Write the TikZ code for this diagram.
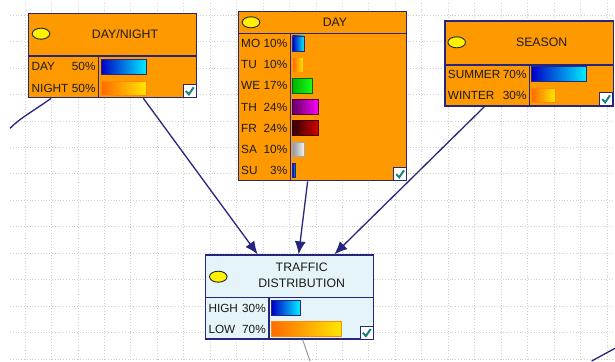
\documentclass[tikz,border=0pt]{standalone}
\usepackage{fontspec}
\setmainfont{Liberation Sans}
\usetikzlibrary{arrows.meta}
\definecolor{org}{HTML}{FF9900}
\definecolor{navy}{HTML}{26267F}
\definecolor{lightc}{HTML}{E4F4F8}
\definecolor{txt}{HTML}{1A1A1A}
\definecolor{tealck}{HTML}{1F7F7F}
\definecolor{gridc}{HTML}{D0D0D0}
\definecolor{oranL}{HTML}{FF6A00}
\definecolor{oranR}{HTML}{FFE800}
\definecolor{oranB}{HTML}{FF8A00}
\definecolor{blueL}{HTML}{0000C8}
\definecolor{blueR}{HTML}{00F0FF}
\tikzset{
  gridline/.style={draw=gridc, line width=0.8pt, dotted},
  nodebox/.style={draw=navy, line width=1.3pt, fill=org, inner sep=0pt},
  tnodebox/.style={nodebox, fill=lightc},
  divline/.style={draw=navy, line width=1.2pt},
  lbl/.style={inner sep=0pt, text height=8.4pt, text depth=0pt, text=txt, font=\fontsize{11.8}{13}\selectfont},
  ttl/.style={inner sep=0pt, text height=8.8pt, text depth=0pt, text=txt, font=\fontsize{12.3}{14}\selectfont},
  oval/.style={fill=yellow, draw=black!85, line width=0.9pt},
  barblue/.style={left color=blueL, right color=blueR, draw=navy, line width=0.8pt},
  barorange/.style={left color=oranL, right color=oranR, draw=oranB, line width=0.8pt},
  bargreen/.style={left color=green!70!black, right color=green!90!white, draw=green!40!black, line width=0.8pt},
  barpurple/.style={left color=violet!80!black, right color=magenta, draw=violet!60!black, line width=0.8pt},
  barred/.style={left color=red!20!black, right color=red!85!black, draw=red!25!black, line width=0.8pt},
  bargray/.style={left color=gray!80, right color=gray!10, draw=gray!70, line width=0.8pt},
  arr/.style={draw=navy, line width=1.3pt, -{Latex[length=13pt,width=11pt]}},
  link/.style={draw=navy, line width=1.3pt},
  glink/.style={draw=gray!80, line width=1pt},
  chkbox/.pic={
    \draw[fill=white, draw=navy, line width=1.1pt] (-6.5,-6.5) rectangle (6.5,6.5);
    \draw[draw=tealck, line width=2pt] (-3.8,0.2) -- (-0.8,3.4) -- (4,-3.6);
  }
}
\begin{document}
\begin{tikzpicture}[x=1pt,y=-1pt]
\useasboundingbox (0,0) rectangle (615,361);
\fill[white] (0,0) rectangle (615,361);
% background grid
\foreach \i in {0,...,22} \draw[gridline] ({25+\i*26.45},3) -- ({25+\i*26.45},361);
\foreach \j in {0,...,13} \draw[gridline] (10,{15.1+\j*26.45}) -- (615,{15.1+\j*26.45});

% ---------- DAY/NIGHT ----------
\node[nodebox, minimum width=168.4pt, minimum height=84.4pt] (dn) at (112.5,55.5) {};
\draw[divline] (28.3,56) -- (196.7,56);
\draw[divline] (98.3,56) -- (98.3,97.7);
\draw[oval] (41,33.7) ellipse [x radius=8.8pt, y radius=5.5pt];
\node[ttl] (dnt) at (125,33.7) {DAY/NIGHT};
\node[lbl, anchor=west] (dn1) at (31.5,66.7) {DAY};
\node[lbl, anchor=east] (dn1p) at (95.7,66.7) {50\%};
\node[lbl, anchor=west] (dn2) at (31.5,88.3) {NIGHT};
\node[lbl, anchor=east] (dn2p) at (95.7,88.3) {50\%};
\draw[barblue] (101,59.3) rectangle (146.7,74);
\draw[barorange] (101,81) rectangle (146.7,95.5);
\pic at (189.7,90.9) {chkbox};

% ---------- DAY ----------
\node[nodebox, minimum width=168.4pt, minimum height=169pt] (dy) at (322.5,96.2) {};
\draw[divline] (238.3,33.3) -- (406.7,33.3);
\draw[divline] (290.7,33.3) -- (290.7,180.7);
\draw[oval] (251,22.3) ellipse [x radius=8.8pt, y radius=5.5pt];
\node[ttl] (dyt) at (335,22.3) {DAY};
\node[lbl, anchor=west] (d1) at (241,43.3) {MO};  \node[lbl, anchor=east] (d1p) at (287.5,43.3) {10\%};
\node[lbl, anchor=west] (d2) at (241,64.5) {TU};  \node[lbl, anchor=east] (d2p) at (287.5,64.5) {10\%};
\node[lbl, anchor=west] (d3) at (241,85.7) {WE};  \node[lbl, anchor=east] (d3p) at (287.5,85.7) {17\%};
\node[lbl, anchor=west] (d4) at (241,106.9) {TH}; \node[lbl, anchor=east] (d4p) at (287.5,106.9) {24\%};
\node[lbl, anchor=west] (d5) at (241,128.1) {FR}; \node[lbl, anchor=east] (d5p) at (287.5,128.1) {24\%};
\node[lbl, anchor=west] (d6) at (241,149.3) {SA}; \node[lbl, anchor=east] (d6p) at (287.5,149.3) {10\%};
\node[lbl, anchor=west] (d7) at (241,170.5) {SU}; \node[lbl, anchor=east] (d7p) at (287.5,170.5) {3\%};
\draw[barblue] (292.7,36) rectangle (304,51);
\draw[barorange, draw=org] (292.7,57.3) rectangle (303.3,72);
\draw[bargreen] (292.7,78.5) rectangle (312,93.2);
\draw[barpurple] (292.7,99.6) rectangle (318.7,114.3);
\draw[barred] (292.7,120.8) rectangle (318.7,135.5);
\draw[bargray] (292.7,142) rectangle (304,156.7);
\draw[barblue] (292.7,163.3) rectangle (295.8,177.8);
\pic at (400,173.9) {chkbox};

% ---------- SEASON ----------
\node[nodebox, minimum width=168.3pt, minimum height=85pt] (se) at (529.2,63.5) {};
\draw[divline] (445,65) -- (613.3,65);
\draw[divline] (529.3,65) -- (529.3,106);
\draw[oval] (456.7,42.3) ellipse [x radius=8.8pt, y radius=5.5pt];
\node[ttl] (set) at (541.7,42.3) {SEASON};
\node[lbl, anchor=west] (s1) at (447.7,74) {SUMMER};
\node[lbl, anchor=east] (s1p) at (526.7,74) {70\%};
\node[lbl, anchor=west] (s2) at (447.7,95.7) {WINTER};
\node[lbl, anchor=east] (s2p) at (526.7,95.7) {30\%};
\draw[barblue] (531.7,66.7) rectangle (586.7,81.7);
\draw[barorange] (531.7,88.3) rectangle (555,102.7);
\pic at (606,98.9) {chkbox};

% ---------- TRAFFIC DISTRIBUTION ----------
\node[tnodebox, minimum width=167.6pt, minimum height=84pt] (tr) at (289.5,297) {};
\draw[divline] (205.7,297.3) -- (373.3,297.3);
\draw[divline] (269,297.3) -- (269,339);
\draw[oval] (218.3,276.7) ellipse [x radius=8.8pt, y radius=5.5pt];
\node[ttl] (trt1) at (301.7,266.7) {TRAFFIC};
\node[ttl] (trt2) at (301.7,282.7) {DISTRIBUTION};
\node[lbl, anchor=west] (t1) at (208.3,308.3) {HIGH};
\node[lbl, anchor=east] (t1p) at (266,308.3) {30\%};
\node[lbl, anchor=west] (t2) at (208.3,329.3) {LOW};
\node[lbl, anchor=east] (t2p) at (266,329.3) {70\%};
\draw[barblue] (271.7,300.7) rectangle (300,315);
\draw[barorange] (271.7,321.5) rectangle (341.7,336.5);
\pic at (366.7,332.6) {chkbox};

% ---------- connectors ----------
\coordinate (offL) at (10,128.3);
\coordinate (offB) at (310,361);
\coordinate (offR1) at (591.7,361);
\coordinate (offR2) at (615,348.3);
\draw[link] ([xshift=23.4pt]dn.south west) .. controls (35,110) and (20,118) .. (offL);
\draw[glink] ([xshift=97.6pt]tr.south west) -- (offB);
\draw[link] (offR1) -- (offR2);

\draw[arr] ([xshift=115.7pt]dn.south west) -- ([xshift=52.6pt]tr.north west);
\draw[arr] ([xshift=70pt]dy.south west) -- ([xshift=93.6pt]tr.north west);
\draw[arr] ([xshift=40pt]se.south west) -- ([xshift=129.3pt]tr.north west);
\end{tikzpicture}
\end{document}
